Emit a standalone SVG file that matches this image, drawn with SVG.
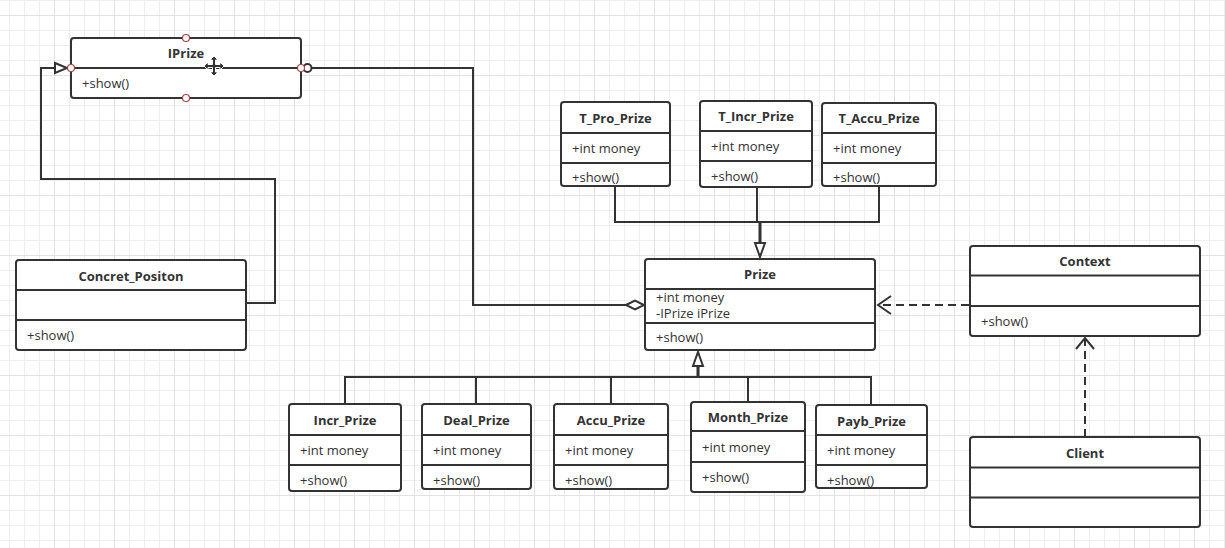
<svg xmlns="http://www.w3.org/2000/svg" width="1225" height="548" viewBox="0 0 1225 548">
<defs>
<pattern id="gMinor" patternUnits="userSpaceOnUse" x="9" y="0" width="15" height="15">
<path d="M0.5 0V15M0 0.5H15" stroke="#eeeeee" stroke-width="1" fill="none"/>
</pattern>
<pattern id="gMajor" patternUnits="userSpaceOnUse" x="54" y="15" width="60" height="60">
<path d="M0.5 0V60M0 0.5H60" stroke="#e2e2e2" stroke-width="1" fill="none"/>
</pattern>
</defs>
<style>
.box{fill:#ffffff;stroke:#333333;stroke-width:2}
.sep{stroke:#333333;stroke-width:2}
.t{font-family:"Open Sans","Liberation Sans",sans-serif;font-size:13px;font-weight:bold;fill:#333333;text-anchor:middle}
.m{font-family:"Open Sans","Liberation Sans",sans-serif;font-size:13px;fill:#333333}
.e{fill:none;stroke:#333333;stroke-width:2}
.thick{stroke-width:3}
.dash{stroke-dasharray:8 5}
.hollow{fill:#ffffff;stroke:#333333;stroke-width:2}
.cp{fill:#ffffff;stroke:#a84442;stroke-width:1.2}
</style>
<rect width="1225" height="548" fill="#ffffff"/>
<rect width="1225" height="548" fill="url(#gMinor)"/>
<rect width="1225" height="548" fill="url(#gMajor)"/>

<g id="connectors">
<polyline class="e" points="246,303 275,303 275,179 41,179 41,68 55,68"/>
<polygon class="hollow" points="55,63 67,68 55,73"/>
<circle cx="307.5" cy="68" r="4" class="e"/>
<polyline class="e" points="312,68 473,68 473,305 626,305"/>
<polygon class="hollow" points="626,305 635,300.5 644,305 635,309.5"/>
<polyline class="e" points="615,186 615,222 879,222 879,186"/>
<line class="e" x1="757" y1="187" x2="757" y2="222"/>
<line class="e thick" x1="760" y1="221" x2="760" y2="243"/>
<polygon class="hollow" points="755,243 765,243 760,257"/>
<polyline class="e" points="345,404 345,377 871,377 871,405"/>
<line class="e" x1="476" y1="377" x2="476" y2="404"/>
<line class="e" x1="611" y1="377" x2="611" y2="404"/>
<line class="e" x1="748" y1="377" x2="748" y2="402"/>
<line class="e thick" x1="698" y1="378" x2="698" y2="366"/>
<polygon class="hollow" points="693,366 703,366 698,352"/>
<line class="e dash" x1="969" y1="305" x2="879" y2="305"/>
<polyline class="e" points="891,296 878,305 891,314"/>
<line class="e dash" x1="1085" y1="437" x2="1085" y2="339"/>
<polyline class="e" points="1076,349 1085,338 1094,349"/>
</g>

<g id="IPrize">
<rect class="box" x="71" y="38" width="230" height="60" rx="3"/>
<line class="sep" x1="71" y1="68" x2="301" y2="68"/>
<text class="t" x="186" y="58">IPrize</text>
<text class="m" x="82" y="88">+show()</text>
<circle class="cp" cx="186" cy="38" r="3.5"/>
<circle class="cp" cx="186" cy="98" r="3.5"/>
<circle class="cp" cx="71" cy="68" r="3.5"/>
<circle class="cp" cx="301" cy="68" r="3.5"/>
<g transform="translate(214,66)">
<path d="M0,-10 L4,-6 L1.5,-6 L1.5,-1.5 L6,-1.5 L6,-4 L10,0 L6,4 L6,1.5 L1.5,1.5 L1.5,6 L4,6 L0,10 L-4,6 L-1.5,6 L-1.5,1.5 L-6,1.5 L-6,4 L-10,0 L-6,-4 L-6,-1.5 L-1.5,-1.5 L-1.5,-6 L-4,-6 Z" fill="#333333" stroke="#ffffff" stroke-width="1"/>
</g>
</g>

<g id="Concret_Positon">
<rect class="box" x="16" y="260" width="230" height="90" rx="3"/>
<line class="sep" x1="16" y1="290" x2="246" y2="290"/>
<line class="sep" x1="16" y1="320" x2="246" y2="320"/>
<text class="t" x="131" y="281">Concret_Positon</text>
<text class="m" x="27" y="340">+show()</text>
</g>

<g id="T_Pro_Prize">
<rect class="box" x="561" y="102" width="109" height="84" rx="3"/>
<line class="sep" x1="561" y1="133" x2="670" y2="133"/>
<line class="sep" x1="561" y1="163" x2="670" y2="163"/>
<text class="t" x="615.5" y="123">T_Pro_Prize</text>
<text class="m" x="572" y="153">+int money</text>
<text class="m" x="572" y="182">+show()</text>
</g>

<g id="T_Incr_Prize">
<rect class="box" x="700" y="101" width="112" height="86" rx="3"/>
<line class="sep" x1="700" y1="131" x2="812" y2="131"/>
<line class="sep" x1="700" y1="161" x2="812" y2="161"/>
<text class="t" x="756" y="121">T_Incr_Prize</text>
<text class="m" x="711" y="151">+int money</text>
<text class="m" x="711" y="181">+show()</text>
</g>

<g id="T_Accu_Prize">
<rect class="box" x="822" y="103" width="114" height="83" rx="3"/>
<line class="sep" x1="822" y1="133" x2="936" y2="133"/>
<line class="sep" x1="822" y1="163" x2="936" y2="163"/>
<text class="t" x="879" y="123">T_Accu_Prize</text>
<text class="m" x="833" y="153">+int money</text>
<text class="m" x="833" y="182">+show()</text>
</g>

<g id="Prize">
<rect class="box" x="645" y="259" width="230" height="91" rx="3"/>
<line class="sep" x1="645" y1="289" x2="875" y2="289"/>
<line class="sep" x1="645" y1="323" x2="875" y2="323"/>
<text class="t" x="760" y="279">Prize</text>
<text class="m" x="656" y="302">+int money</text>
<text class="m" x="656" y="318">-IPrize iPrize</text>
<text class="m" x="656" y="342">+show()</text>
</g>

<g id="Context">
<rect class="box" x="970" y="246" width="230" height="90" rx="3"/>
<line class="sep" x1="970" y1="275.5" x2="1200" y2="275.5"/>
<line class="sep" x1="970" y1="306" x2="1200" y2="306"/>
<text class="t" x="1085" y="266">Context</text>
<text class="m" x="981" y="326">+show()</text>
</g>

<g id="Client">
<rect class="box" x="970" y="437" width="230" height="90" rx="3"/>
<line class="sep" x1="970" y1="467.5" x2="1200" y2="467.5"/>
<line class="sep" x1="970" y1="497.5" x2="1200" y2="497.5"/>
<text class="t" x="1085" y="458">Client</text>
</g>

<g id="Incr_Prize">
<rect class="box" x="289" y="404" width="112" height="87" rx="3"/>
<line class="sep" x1="289" y1="435" x2="401" y2="435"/>
<line class="sep" x1="289" y1="465" x2="401" y2="465"/>
<text class="t" x="345" y="425">Incr_Prize</text>
<text class="m" x="300" y="455">+int money</text>
<text class="m" x="300" y="485">+show()</text>
</g>

<g id="Deal_Prize">
<rect class="box" x="422" y="404" width="109" height="85" rx="3"/>
<line class="sep" x1="422" y1="435" x2="531" y2="435"/>
<line class="sep" x1="422" y1="465" x2="531" y2="465"/>
<text class="t" x="476.5" y="425">Deal_Prize</text>
<text class="m" x="433" y="455">+int money</text>
<text class="m" x="433" y="485">+show()</text>
</g>

<g id="Accu_Prize">
<rect class="box" x="554" y="404" width="114" height="85" rx="3"/>
<line class="sep" x1="554" y1="435" x2="668" y2="435"/>
<line class="sep" x1="554" y1="465" x2="668" y2="465"/>
<text class="t" x="611" y="425">Accu_Prize</text>
<text class="m" x="565" y="455">+int money</text>
<text class="m" x="565" y="485">+show()</text>
</g>

<g id="Month_Prize">
<rect class="box" x="691" y="402" width="114" height="90" rx="3"/>
<line class="sep" x1="691" y1="431" x2="805" y2="431"/>
<line class="sep" x1="691" y1="462" x2="805" y2="462"/>
<text class="t" x="748" y="422">Month_Prize</text>
<text class="m" x="702" y="452">+int money</text>
<text class="m" x="702" y="482">+show()</text>
</g>

<g id="Payb_Prize">
<rect class="box" x="816" y="405" width="111" height="83" rx="3"/>
<line class="sep" x1="816" y1="435" x2="927" y2="435"/>
<line class="sep" x1="816" y1="465" x2="927" y2="465"/>
<text class="t" x="871.5" y="426">Payb_Prize</text>
<text class="m" x="827" y="455">+int money</text>
<text class="m" x="827" y="485">+show()</text>
</g>
</svg>
